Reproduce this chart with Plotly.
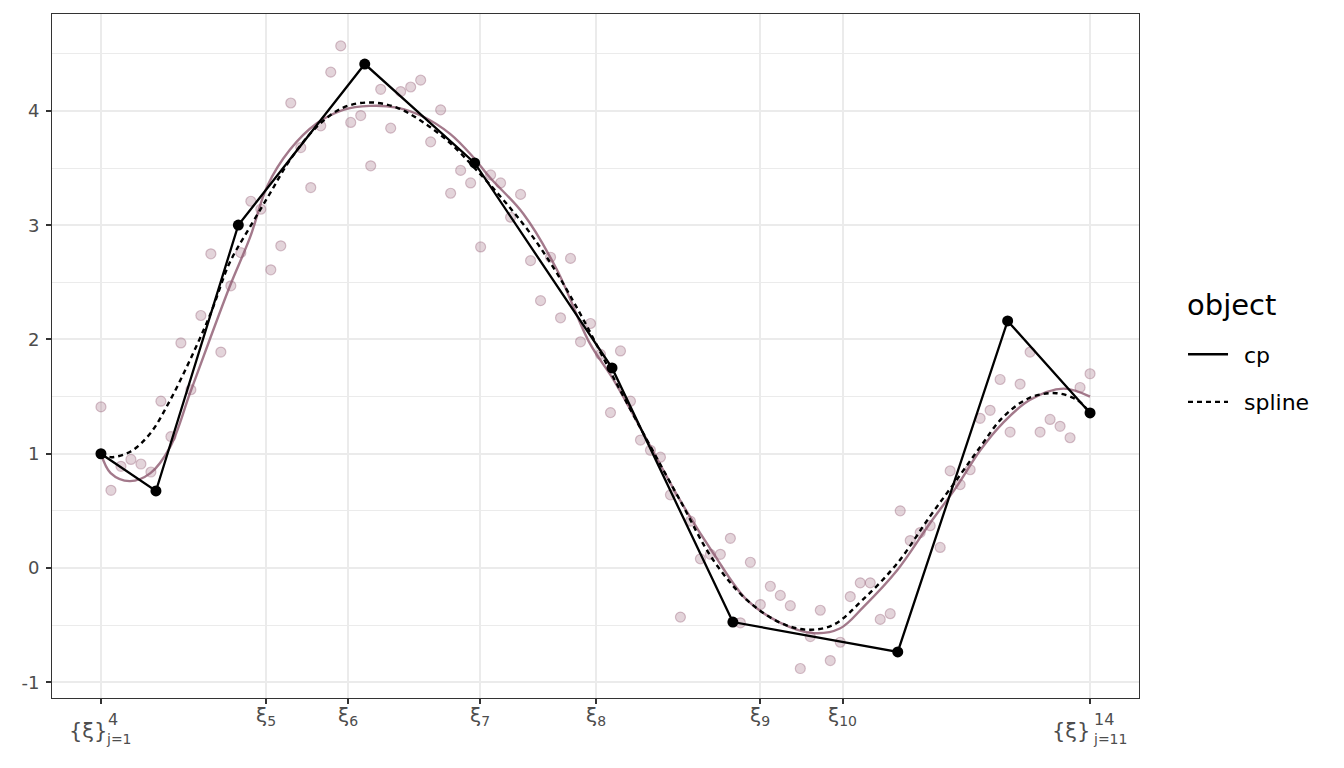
import plotly.graph_objects as go

# ---- data ----
obs_y = [1.41, 0.68, 0.89, 0.95, 0.91, 0.84, 1.46, 1.15, 1.97, 1.56,
         2.21, 2.75, 1.89, 2.47, 2.76, 3.21, 3.14, 2.61, 2.82, 4.07,
         3.68, 3.33, 3.87, 4.34, 4.57, 3.90, 3.96, 3.52, 4.19, 3.85,
         4.17, 4.21, 4.27, 3.73, 4.01, 3.28, 3.48, 3.37, 2.81, 3.44,
         3.37, 3.07, 3.27, 2.69, 2.34, 2.72, 2.19, 2.71, 1.98, 2.14,
         1.87, 1.36, 1.90, 1.46, 1.12, 1.03, 0.97, 0.64, -0.43, 0.41,
         0.08, 0.12, 0.12, 0.26, -0.48, 0.05, -0.32, -0.16, -0.24, -0.33,
         -0.88, -0.60, -0.37, -0.81, -0.65, -0.25, -0.13, -0.13, -0.45, -0.40,
         0.50, 0.24, 0.31, 0.37, 0.18, 0.85, 0.73, 0.86, 1.31, 1.38,
         1.65, 1.19, 1.61, 1.89, 1.19, 1.30, 1.24, 1.14, 1.58, 1.70]
obs_x = [i / 99 for i in range(100)]

cp_x = [0.0, 0.0556, 0.1389, 0.2667, 0.3778, 0.5167, 0.6389, 0.8056, 0.9167, 1.0]
cp_y = [1.0, 0.674, 3.002, 4.411, 3.545, 1.751, -0.473, -0.735, 2.162, 1.357]

spline_x = [0.0, 0.0098, 0.030, 0.050, 0.070, 0.090, 0.111, 0.130, 0.151, 0.171,
            0.191, 0.218, 0.245, 0.272, 0.299, 0.326, 0.353, 0.380, 0.407, 0.434,
            0.461, 0.488, 0.518, 0.552, 0.585, 0.619, 0.653, 0.687, 0.714, 0.740,
            0.770, 0.805, 0.838, 0.865, 0.889, 0.912, 0.939, 0.966, 0.987, 1.0]
spline_y = [1.0, 0.97, 1.02, 1.18, 1.47, 1.82, 2.23, 2.67, 2.99, 3.28,
            3.57, 3.86, 4.03, 4.075, 4.03, 3.90, 3.72, 3.48, 3.22, 2.93,
            2.58, 2.17, 1.67, 1.12, 0.60, 0.07, -0.28, -0.48, -0.54, -0.50,
            -0.28, 0.04, 0.45, 0.77, 1.06, 1.32, 1.49, 1.53, 1.47, 1.357]

fit_x = [0.0, 0.0098, 0.029, 0.050, 0.070, 0.090, 0.110, 0.130, 0.151, 0.168,
         0.191, 0.218, 0.245, 0.272, 0.299, 0.326, 0.353, 0.376, 0.393, 0.427,
         0.461, 0.494, 0.518, 0.552, 0.585, 0.619, 0.653, 0.687, 0.720, 0.747,
         0.771, 0.805, 0.838, 0.865, 0.889, 0.912, 0.939, 0.973, 1.0]
fit_y = [1.0, 0.83, 0.76, 0.83, 1.06, 1.53, 2.0, 2.46, 2.90, 3.34,
         3.66, 3.89, 4.01, 4.045, 4.03, 3.95, 3.80, 3.60, 3.42, 3.10,
         2.61, 1.97, 1.65, 1.12, 0.60, 0.13, -0.28, -0.48, -0.57, -0.53,
         -0.34, -0.02, 0.39, 0.71, 1.03, 1.27, 1.47, 1.57, 1.50]

knot_vals = [0.0, 0.1667, 0.25, 0.383, 0.5, 0.6667, 0.75, 1.0]
inner_knots = [(0.1667, "5"), (0.25, "6"), (0.383, "7"), (0.5, "8"), (0.6667, "9"), (0.75, "10")]
# composite boundary-knot labels: (x, base, superscript, subscript)
outer_knots = [(0.0, "{ξ}", "4", "j=1"), (1.0, "{ξ}", "14", "j=11")]
legend_title = "object"

# ---- figure ----
fig = go.Figure()
mauve = "rgba(140,88,110,0.8)"
tick_col = "#4d4d4d"

fig.add_trace(go.Scatter(
    x=obs_x, y=obs_y, mode="markers", showlegend=False,
    marker=dict(size=10, color="rgba(150,95,118,0.27)",
                line=dict(color="rgba(150,95,118,0.38)", width=1.2))))

fig.add_trace(go.Scatter(
    x=fit_x, y=fit_y, mode="lines", line_shape="spline", showlegend=False,
    line=dict(color=mauve, width=2.4)))

fig.add_trace(go.Scatter(
    x=cp_x, y=cp_y, mode="lines+markers", showlegend=False,
    line=dict(color="black", width=2.3), marker=dict(color="black", size=11)))

fig.add_trace(go.Scatter(
    x=spline_x, y=spline_y, mode="lines", line_shape="spline", name="\u2002spline",
    legendgroup="spline", legendrank=2,
    line=dict(color="black", width=2.4, dash="5px,4px")))

fig.add_trace(go.Scatter(
    x=[None], y=[None], mode="lines", name="\u2002cp", legendgroup="cp", legendrank=1,
    line=dict(color="black", width=2.3)))

# x tick labels as annotations
for xv, d in inner_knots:
    fig.add_annotation(x=xv, y=0, xref="x", yref="paper", yanchor="middle",
                       text="ξ<sub>" + d + "</sub>", showarrow=False, yshift=-18,
                       font=dict(size=20, color=tick_col, family="DejaVu Sans"))
for xv, base, sup, sub in outer_knots:
    left = xv == 0.0
    fig.add_annotation(x=xv, y=0, xref="x", yref="paper", yanchor="middle",
                       text=base, showarrow=False, xshift=-13 if left else -19, yshift=-33,
                       font=dict(size=21, color=tick_col, family="DejaVu Sans"))
    fig.add_annotation(x=xv, y=0, xref="x", yref="paper", yanchor="middle",
                       text=sup, showarrow=False, xshift=12 if left else 14, yshift=-21,
                       font=dict(size=16, color=tick_col, family="DejaVu Sans"))
    fig.add_annotation(x=xv, y=0, xref="x", yref="paper", yanchor="middle",
                       text=sub, showarrow=False, xshift=18 if left else 20, yshift=-41,
                       font=dict(size=14, color=tick_col, family="DejaVu Sans"))

# legend title
fig.add_annotation(x=1.0423, y=0.5746, xref="paper", yref="paper", xanchor="left",
                   yanchor="middle", text=legend_title, showarrow=False,
                   font=dict(size=29, color="black", family="DejaVu Sans"))

grid = "#ebebeb"
fig.update_xaxes(
    range=[-0.0495, 1.0495], tickmode="array", tickvals=knot_vals,
    ticktext=[""] * len(knot_vals), automargin=False,
    showgrid=True, gridcolor=grid, gridwidth=2, zeroline=False,
    ticks="outside", ticklen=5, tickcolor="#333333", tickwidth=1.5,
    showline=True, linecolor="#333333", linewidth=1, mirror=True)
fig.update_yaxes(
    range=[-1.138, 4.849], tickmode="array", tickvals=[-1, 0, 1, 2, 3, 4],
    ticktext=["-1", "0", "1", "2", "3", "4"], automargin=False,
    showgrid=True, gridcolor=grid, gridwidth=2, zeroline=False,
    ticks="outside", ticklen=5, tickcolor="#333333", tickwidth=1.5,
    ticklabelstandoff=3,
    tickfont=dict(size=18, color=tick_col, family="DejaVu Sans"),
    showline=True, linecolor="#333333", linewidth=1, mirror=True,
    minor=dict(tickvals=[-0.5, 0.5, 1.5, 2.5, 3.5, 4.5], showgrid=True,
               gridcolor=grid, gridwidth=1.1, ticks=""))

# page has an 8px body margin: compensate so the panel lands where the reference has it
fig.update_layout(
    width=1336, height=760,
    margin=dict(l=44, r=205, t=6, b=70),
    paper_bgcolor="white", plot_bgcolor="white",
    font=dict(family="DejaVu Sans", color="black"),
    legend=dict(
        font=dict(size=22), x=1.0405, xanchor="left", y=0.533, yanchor="top",
        tracegroupgap=16, itemwidth=40, bgcolor="rgba(0,0,0,0)"),
)

fig.write_html("out.html")
